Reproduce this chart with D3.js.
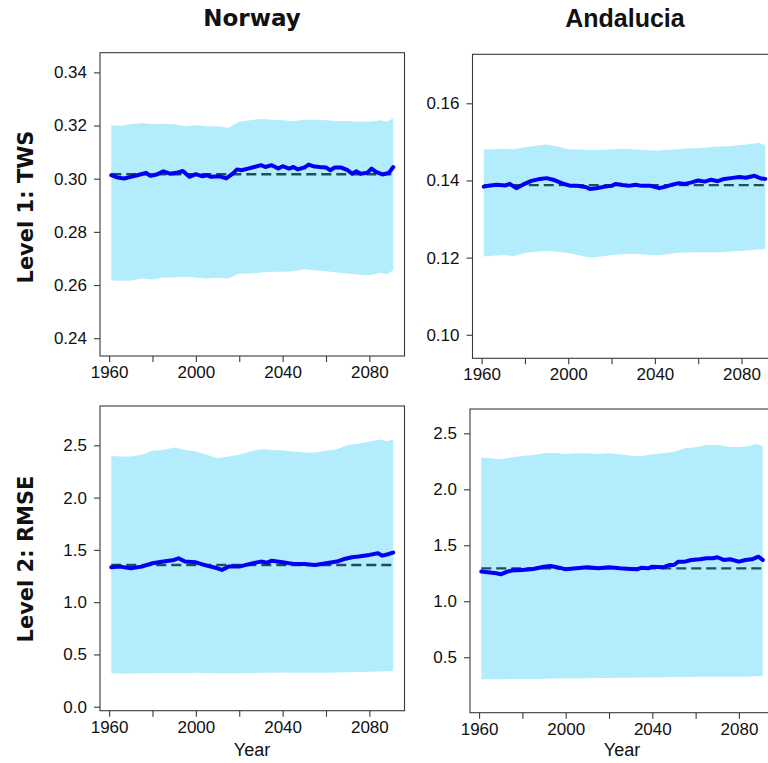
<!DOCTYPE html>
<html>
<head>
<meta charset="utf-8">
<script src="https://cdn.jsdelivr.net/npm/d3@7"></script>
<style>
  html, body { margin: 0; padding: 0; background: #fff; overflow: hidden; }
  svg { display: block; }
</style>
</head>
<body>
<svg id="chart" width="768" height="763"></svg>
<script>
// ---- Data --------------------------------------------------------------
const regions = ["Norway", "Andalucia"];
const levels = ["Level 1: TWS", "Level 2: RMSE"];
const xTickYears = [1960, 1980, 2000, 2020, 2040, 2060, 2080];
const xLabelYears = [1960, 2000, 2040, 2080];

// Years at which the ensemble envelope (upper / lower bound) is given
const bandYears = [1961, 1965, 1970, 1975, 1980, 1985, 1990, 1995, 2000, 2005, 2010, 2015, 2020, 2025,
                   2030, 2035, 2040, 2045, 2050, 2055, 2060, 2065, 2070, 2075, 2080, 2085, 2088, 2091];

// Norway, TWS
const norwayTwsUpper = [0.3201, 0.3199, 0.3205, 0.3210, 0.3205, 0.3207, 0.3205, 0.3197, 0.3201, 0.3197, 0.3197, 0.3192, 0.3214, 0.3220,
                        0.3225, 0.3222, 0.3220, 0.3216, 0.3222, 0.3222, 0.3220, 0.3217, 0.3217, 0.3214, 0.3214, 0.3220, 0.3214, 0.3227];
const norwayTwsLower = [0.2618, 0.2616, 0.2616, 0.2625, 0.2621, 0.2628, 0.2628, 0.2631, 0.2628, 0.2625, 0.2627, 0.2625, 0.2643, 0.2643,
                        0.2647, 0.2650, 0.2650, 0.2652, 0.2659, 0.2656, 0.2652, 0.2647, 0.2643, 0.2640, 0.2637, 0.2646, 0.2641, 0.2656];
const norwayTwsYears = [1961, 1964, 1967, 1970, 1973, 1977, 1979, 1982, 1985, 1988, 1991, 1994, 1997, 2000, 2003, 2005, 2007,
                        2011, 2014, 2017, 2019, 2021, 2024, 2026, 2030, 2032, 2035, 2038, 2040, 2043, 2045, 2047, 2050, 2052,
                        2054, 2057, 2060, 2062, 2064, 2067, 2070, 2072, 2074, 2076, 2079, 2081, 2083, 2086, 2089, 2091];
const norwayTwsMean = [0.3013, 0.3004, 0.3001, 0.3007, 0.3013, 0.3022, 0.3011, 0.3016, 0.3028, 0.3019, 0.3022, 0.3029, 0.3007,
                       0.3017, 0.3009, 0.3013, 0.3007, 0.3009, 0.3001, 0.3019, 0.3035, 0.3032, 0.3038, 0.3042, 0.3051, 0.3044,
                       0.3051, 0.3038, 0.3047, 0.3038, 0.3044, 0.3035, 0.3042, 0.3053, 0.3047, 0.3044, 0.3042, 0.3032, 0.3042,
                       0.3042, 0.3032, 0.3019, 0.3028, 0.3019, 0.3022, 0.3038, 0.3026, 0.3016, 0.3022, 0.3044];
const norwayTwsRef = 0.3017;

// Andalucia, TWS
const andaluciaTwsUpper = [0.1480, 0.1481, 0.1482, 0.1481, 0.1486, 0.1490, 0.1493, 0.1488, 0.1481, 0.1480, 0.1478, 0.1479, 0.1481, 0.1482,
                           0.1480, 0.1479, 0.1477, 0.1479, 0.1481, 0.1483, 0.1484, 0.1486, 0.1488, 0.1489, 0.1492, 0.1495, 0.1497, 0.1492];
const andaluciaTwsLower = [0.1203, 0.1205, 0.1207, 0.1204, 0.1212, 0.1215, 0.1218, 0.1215, 0.1212, 0.1206, 0.1200, 0.1203, 0.1207, 0.1209,
                           0.1210, 0.1208, 0.1206, 0.1208, 0.1212, 0.1213, 0.1214, 0.1214, 0.1214, 0.1216, 0.1218, 0.1220, 0.1221, 0.1222];
const andaluciaTwsYears = [1961, 1964, 1967, 1971, 1973, 1976, 1979, 1983, 1987, 1990, 1993, 1997, 2001, 2004, 2008, 2010, 2013,
                           2017, 2020, 2022, 2025, 2028, 2031, 2034, 2038, 2042, 2045, 2048, 2051, 2054, 2057, 2060, 2063, 2066,
                           2069, 2072, 2075, 2079, 2082, 2086, 2089, 2091];
const andaluciaTwsMean = [0.1384, 0.1387, 0.1389, 0.1387, 0.1391, 0.1380, 0.1389, 0.1399, 0.1404, 0.1406, 0.1402, 0.1393, 0.1386,
                          0.1386, 0.1383, 0.1378, 0.1380, 0.1384, 0.1386, 0.1391, 0.1388, 0.1386, 0.1389, 0.1386, 0.1386, 0.1380,
                          0.1384, 0.1389, 0.1393, 0.1391, 0.1395, 0.1400, 0.1397, 0.1402, 0.1398, 0.1404, 0.1406, 0.1409, 0.1407,
                          0.1412, 0.1405, 0.1404];
const andaluciaTwsRef = 0.1388;

// Norway, RMSE
const norwayRmseUpper = [2.399, 2.393, 2.393, 2.409, 2.447, 2.456, 2.478, 2.456, 2.441, 2.409, 2.377, 2.393, 2.409, 2.441,
                         2.463, 2.456, 2.450, 2.441, 2.431, 2.431, 2.447, 2.463, 2.504, 2.514, 2.536, 2.555, 2.540, 2.558];
const norwayRmseLower = [0.319, 0.318, 0.318, 0.320, 0.321, 0.322, 0.323, 0.323, 0.324, 0.322, 0.320, 0.319, 0.320, 0.322,
                         0.324, 0.326, 0.327, 0.326, 0.325, 0.325, 0.326, 0.328, 0.330, 0.332, 0.334, 0.337, 0.339, 0.342];
const norwayRmseYears = [1961, 1965, 1970, 1975, 1980, 1985, 1990, 1992, 1995, 2000, 2005, 2010, 2012, 2015, 2020, 2025, 2030,
                         2033, 2035, 2040, 2045, 2050, 2055, 2060, 2065, 2068, 2072, 2075, 2080, 2084, 2086, 2089, 2091];
const norwayRmseMean = [1.334, 1.340, 1.324, 1.340, 1.372, 1.388, 1.404, 1.420, 1.388, 1.381, 1.350, 1.324, 1.308, 1.340, 1.340,
                        1.366, 1.388, 1.378, 1.397, 1.381, 1.366, 1.366, 1.356, 1.372, 1.388, 1.410, 1.429, 1.436, 1.452, 1.468,
                        1.445, 1.461, 1.474];
const norwayRmseRef = 1.356;

// Andalucia, RMSE
const andaluciaRmseUpper = [2.285, 2.277, 2.268, 2.285, 2.297, 2.306, 2.322, 2.325, 2.315, 2.321, 2.321, 2.315, 2.321, 2.312,
                            2.300, 2.297, 2.312, 2.321, 2.336, 2.366, 2.375, 2.396, 2.396, 2.381, 2.375, 2.387, 2.405, 2.387];
const andaluciaRmseLower = [0.303, 0.303, 0.304, 0.305, 0.306, 0.307, 0.309, 0.310, 0.312, 0.312, 0.313, 0.314, 0.315, 0.316,
                            0.317, 0.319, 0.321, 0.322, 0.323, 0.324, 0.325, 0.326, 0.326, 0.327, 0.327, 0.329, 0.331, 0.333];
const andaluciaRmseYears = [1961, 1965, 1968, 1970, 1973, 1975, 1980, 1985, 1990, 1993, 1997, 2000, 2005, 2010, 2015, 2020, 2025,
                            2030, 2033, 2035, 2038, 2040, 2045, 2048, 2050, 2052, 2055, 2058, 2062, 2065, 2068, 2070, 2073, 2076,
                            2080, 2083, 2086, 2089, 2091];
const andaluciaRmseMean = [1.265, 1.256, 1.250, 1.241, 1.265, 1.274, 1.280, 1.288, 1.309, 1.315, 1.300, 1.285, 1.294, 1.303, 1.294,
                           1.303, 1.294, 1.288, 1.285, 1.300, 1.294, 1.309, 1.303, 1.324, 1.324, 1.354, 1.354, 1.369, 1.375, 1.384,
                           1.384, 1.393, 1.369, 1.375, 1.354, 1.369, 1.375, 1.398, 1.369];
const andaluciaRmseRef = 1.294;

const yTicksTwsNorway = [0.24, 0.26, 0.28, 0.30, 0.32, 0.34];
const yTicksTwsAndalucia = [0.10, 0.12, 0.14, 0.16];
const yTicksRmseNorway = [0.0, 0.5, 1.0, 1.5, 2.0, 2.5];
const yTicksRmseAndalucia = [0.5, 1.0, 1.5, 2.0, 2.5];

// ---- Panel layout --------------------------------------------------------
const xDomain = [1955.8, 2096.2];
const panels = [
  { upper: norwayTwsUpper, lower: norwayTwsLower, years: norwayTwsYears, mean: norwayTwsMean, ref: norwayTwsRef,
    yTicks: yTicksTwsNorway, fmt: ".2f", yDomain: [0.2333, 0.3474],
    box: { left: 100, right: 404.5, top: 52.7, bottom: 356 } },
  { upper: andaluciaTwsUpper, lower: andaluciaTwsLower, years: andaluciaTwsYears, mean: andaluciaTwsMean, ref: andaluciaTwsRef,
    yTicks: yTicksTwsAndalucia, fmt: ".2f", yDomain: [0.0939, 0.1727],
    box: { left: 472.5, right: 776.6, top: 54.3, bottom: 358.3 } },
  { upper: norwayRmseUpper, lower: norwayRmseLower, years: norwayRmseYears, mean: norwayRmseMean, ref: norwayRmseRef,
    yTicks: yTicksRmseNorway, fmt: ".1f", yDomain: [-0.038, 2.876],
    box: { left: 100, right: 404.5, top: 406, bottom: 710.7 } },
  { upper: andaluciaRmseUpper, lower: andaluciaRmseLower, years: andaluciaRmseYears, mean: andaluciaRmseMean, ref: andaluciaRmseRef,
    yTicks: yTicksRmseAndalucia, fmt: ".1f", yDomain: [0.005, 2.717],
    box: { left: 470, right: 774, top: 409, bottom: 712.7 } }
];

const svg = d3.select("#chart");
const tickFont = "'Liberation Sans', Arial, sans-serif";
const frameColor = "#3a3a3a";

panels.forEach(p => {
  const b = p.box;
  const x = d3.scaleLinear().domain(xDomain).range([b.left, b.right]);
  const y = d3.scaleLinear().domain(p.yDomain).range([b.bottom, b.top]);
  const g = svg.append("g");

  // envelope
  const band = bandYears.map((yr, i) => ({ yr, hi: p.upper[i], lo: p.lower[i] }));
  g.append("path")
    .datum(band)
    .attr("fill", "#b3ecfc")
    .attr("d", d3.area().x(d => x(d.yr)).y0(d => y(d.lo)).y1(d => y(d.hi)));

  // reference level (dashed)
  g.append("path")
    .datum([bandYears[0], bandYears[bandYears.length - 1]])
    .attr("fill", "none")
    .attr("stroke", "#1f4f58")
    .attr("stroke-width", 2.4)
    .attr("stroke-dasharray", "10,5")
    .attr("d", d3.line().x(d => x(d)).y(() => y(p.ref)));

  // ensemble mean
  const series = p.years.map((yr, i) => ({ yr, v: p.mean[i] }));
  g.append("path")
    .datum(series)
    .attr("fill", "none")
    .attr("stroke", "#0000f5")
    .attr("stroke-width", 4)
    .attr("stroke-linejoin", "round")
    .attr("stroke-linecap", "round")
    .attr("d", d3.line().x(d => x(d.yr)).y(d => y(d.v)));

  // frame
  g.append("rect")
    .attr("x", b.left).attr("y", b.top)
    .attr("width", b.right - b.left).attr("height", b.bottom - b.top)
    .attr("fill", "none").attr("stroke", frameColor).attr("stroke-width", 1.1);

  // y axis
  const ya = g.append("g")
    .attr("transform", `translate(${b.left},0)`)
    .call(d3.axisLeft(y).tickValues(p.yTicks).tickSize(6).tickPadding(7).tickFormat(d3.format(p.fmt)));
  ya.select(".domain").remove();

  // x axis
  const xa = g.append("g")
    .attr("transform", `translate(0,${b.bottom})`)
    .call(d3.axisBottom(x).tickValues(xTickYears).tickSize(6).tickPadding(4)
      .tickFormat(d => xLabelYears.includes(d) ? String(d) : ""));
  xa.select(".domain").remove();

  [ya, xa].forEach(a => {
    a.selectAll(".tick line").attr("stroke", frameColor).attr("stroke-width", 1.1);
    a.selectAll(".tick text").attr("fill", "#111").style("font-family", tickFont).style("font-size", "17px");
  });
});

// column titles
svg.append("text").attr("x", 252).attr("y", 26).attr("text-anchor", "middle")
  .style("font-family", "'DejaVu Sans', Verdana, sans-serif").style("font-weight", "bold").style("font-size", "23px")
  .attr("fill", "#111").text(regions[0]);
svg.append("text").attr("x", 625).attr("y", 27).attr("text-anchor", "middle")
  .style("font-family", "'Liberation Sans', Arial, sans-serif").style("font-weight", "bold").style("font-size", "25px")
  .attr("fill", "#111").text(regions[1]);

// row titles
[[207, levels[0]], [559, levels[1]]].forEach(([cy, label]) => {
  svg.append("text")
    .attr("transform", `translate(33,${cy}) rotate(-90)`)
    .attr("text-anchor", "middle")
    .style("font-family", "'DejaVu Sans', Verdana, sans-serif").style("font-weight", "bold").style("font-size", "21px")
    .attr("fill", "#111").text(label);
});

// x axis titles
[252, 622].forEach(cx => {
  svg.append("text").attr("x", cx).attr("y", 756).attr("text-anchor", "middle")
    .style("font-family", tickFont).style("font-size", "18px").attr("fill", "#111").text("Year");
});
</script>
</body>
</html>
